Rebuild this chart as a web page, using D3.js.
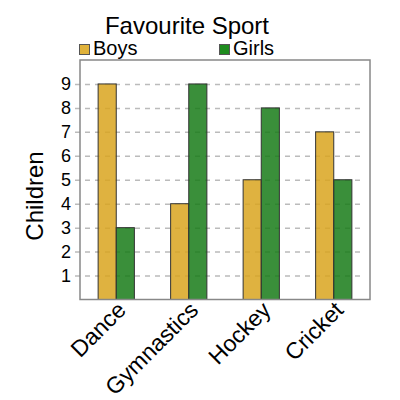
<!DOCTYPE html>
<html>
<head>
<meta charset="utf-8">
<script src="https://cdn.jsdelivr.net/npm/d3@7"></script>
<style>
  html, body { margin: 0; padding: 0; background: #fff; }
  svg { display: block; font-family: "Liberation Sans", Arial, sans-serif; }
</style>
</head>
<body>
<svg id="chart" width="400" height="400"></svg>
<script>
const categories = ["Dance", "Gymnastics", "Hockey", "Cricket"];
const seriesNames = ["Boys", "Girls"];
const boys = [9, 4, 5, 7];
const girls = [3, 9, 8, 5];
const yTicks = [1, 2, 3, 4, 5, 6, 7, 8, 9];
const title = "Favourite Sport";
const yLabel = "Children";

const barColors = ["#D9A51E", "#177B17"];
const legendColors = ["#E0B23A", "#1E8C1E"];

const svg = d3.select("#chart");
const mLeft = 80, mRight = 370, mTop = 60, mBottom = 299.5;

const x0 = d3.scaleBand().domain(categories).range([mLeft, mRight]).paddingInner(0.5).paddingOuter(0.25);
const x1 = d3.scaleBand().domain(seriesNames).range([0, x0.bandwidth()]);
const y = d3.scaleLinear().domain([0, 10]).range([mBottom, mTop]);

// gridlines
const grid = svg.append("g")
  .attr("transform", `translate(${mLeft},0)`)
  .call(d3.axisLeft(y).tickValues(yTicks).tickSize(-(mRight - 10 - mLeft)).tickFormat(""));
grid.select(".domain").remove();
grid.selectAll(".tick line")
  .attr("stroke", "#bbb").attr("stroke-width", 1.5).attr("stroke-dasharray", "5,5")
  .attr("x1", -5);

// bars
const data = categories.map((c, i) => ({ cat: c, vals: [boys[i], girls[i]] }));
svg.append("g").selectAll("g").data(data).join("g")
  .attr("transform", d => `translate(${x0(d.cat)},0)`)
  .selectAll("rect").data(d => d.vals.map((v, j) => ({ s: seriesNames[j], v, j })))
  .join("rect")
  .attr("x", d => x1(d.s))
  .attr("y", d => y(d.v))
  .attr("width", x1.bandwidth())
  .attr("height", d => y(0) - y(d.v))
  .attr("fill", d => barColors[d.j])
  .attr("fill-opacity", 0.85)
  .attr("stroke", "#333")
  .attr("stroke-width", 1);

// frame
svg.append("rect")
  .attr("x", mLeft).attr("y", mTop)
  .attr("width", mRight - mLeft).attr("height", mBottom - mTop)
  .attr("fill", "none").attr("stroke", "#888").attr("stroke-width", 1.5);

// y tick labels
const yAxis = svg.append("g")
  .attr("transform", `translate(${mLeft},0)`)
  .call(d3.axisLeft(y).tickValues(yTicks).tickSize(0).tickPadding(9));
yAxis.select(".domain").remove();
yAxis.selectAll("text").attr("font-size", 18).attr("fill", "#000")
  .attr("font-family", "'Liberation Sans', Arial, sans-serif");

// x labels
const xAxis = svg.append("g")
  .attr("transform", `translate(0,${mBottom})`)
  .call(d3.axisBottom(x0).tickSize(0));
xAxis.select(".domain").remove();
xAxis.selectAll("text")
  .attr("font-size", 23).attr("fill", "#000")
  .attr("font-family", "'Liberation Sans', Arial, sans-serif")
  .attr("text-anchor", "end")
  .attr("dy", null).attr("y", 0)
  .attr("transform", "translate(11,12) rotate(-45)");

// y label
svg.append("text")
  .attr("transform", `translate(43,196) rotate(-90)`)
  .attr("text-anchor", "middle")
  .attr("font-size", 24)
  .text(yLabel);

// title
svg.append("text")
  .attr("x", 187).attr("y", 34)
  .attr("text-anchor", "middle")
  .attr("font-size", 24)
  .text(title);

// legend
const legendX = [79, 219];
const lg = svg.append("g").selectAll("g").data(seriesNames).join("g")
  .attr("transform", (d, i) => `translate(${legendX[i]},44)`);
lg.append("rect").attr("x", 0.5).attr("y", 0.5).attr("width", 10).attr("height", 10)
  .attr("fill", (d, i) => legendColors[i]).attr("stroke", "#555").attr("stroke-width", 1);
lg.append("text").attr("x", 14).attr("y", 11).attr("font-size", 20).text(d => d);
</script>
</body>
</html>
